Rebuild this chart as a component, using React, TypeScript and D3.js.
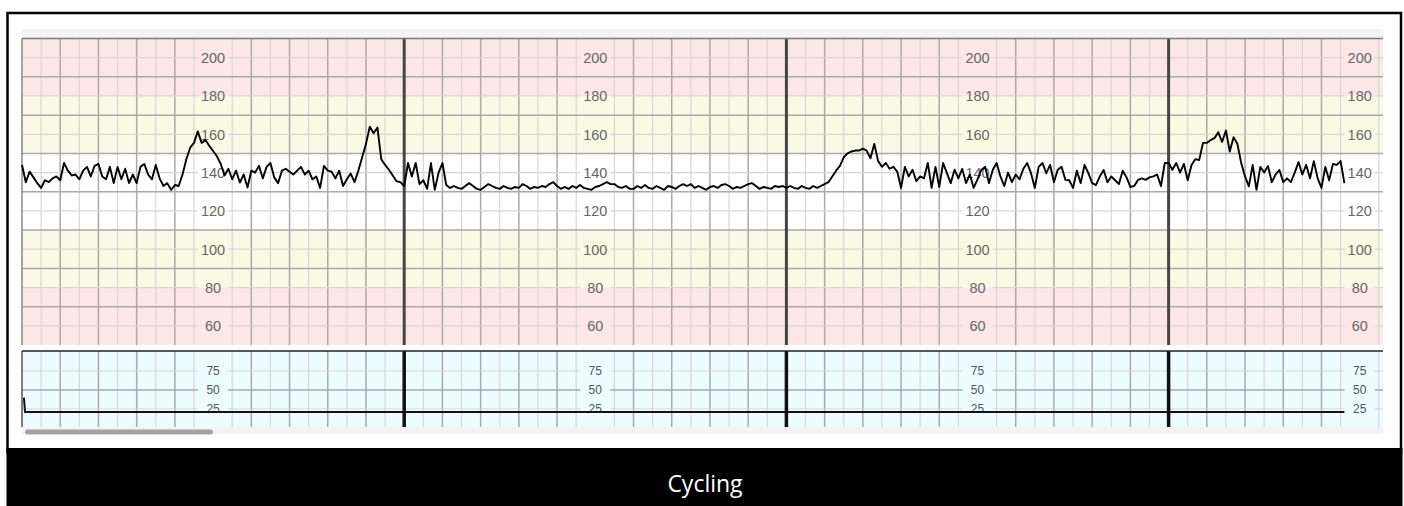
import React, { useEffect, useRef } from 'react';
import * as d3 from 'd3';

const WIDTH = 1404;
const HEIGHT = 506;

// fetal heart rate, one sample every 0.1 min, split per 10 minute page
const SAMPLE_MIN = 0.1;
const fhrPage1 = [
  144, 135, 140.5, 137.5, 134.5, 132, 136, 135, 137, 138,
  136, 145, 141, 138.5, 139, 136.5, 141, 143, 138, 143.5,
  144.5, 138, 136.5, 143, 134.5, 143, 136.5, 142, 134.5, 139,
  134.5, 143, 144.5, 139, 136.5, 144, 137, 133, 134.5, 131,
  133.5, 133, 139, 147, 153, 155.5, 161.5, 155.5, 157, 154,
  151.3, 148.5, 144.5, 138.5, 142, 136.5, 141, 134.8, 139, 132.2,
  141, 140, 143.5, 137, 143, 145, 137.5, 134.5, 141, 142,
  140.5, 139, 141, 143, 139, 141, 136.5, 138, 132, 143.5,
  141, 140.5, 137, 141, 133, 136.5, 139.5, 135, 141, 148,
  155, 164, 160.5, 163.5, 147, 144, 141.5, 138.5, 135.5, 135,
];
const fhrPage2 = [
  133, 145, 138, 145, 134, 136, 131.5, 145, 131, 140,
  145, 133.5, 132, 133, 132, 131.5, 133, 134.5, 133, 131.5,
  131, 132.5, 134, 133, 132, 131.5, 133, 132, 131.5, 132.5,
  132, 134, 133, 131.5, 132.5, 132, 133, 132.5, 134, 135,
  133, 131.5, 132.5, 131.5, 133, 132, 133.5, 132, 131.5, 131,
  132.5, 133, 134, 135, 134, 134, 132.5, 132, 133, 131.5,
  131.5, 133, 132, 133.5, 132, 131.5, 133, 132, 131, 133,
  132.5, 131.5, 133, 134, 133, 134, 132, 133, 132, 131,
  132.5, 133, 132, 133.5, 134, 133, 131.5, 132.5, 132, 133,
  134, 134.5, 133, 131.5, 132.5, 132, 131.5, 133, 132.5, 133,
];
const fhrPage3 = [
  132, 133, 132, 131.5, 133, 132, 131.5, 133, 132, 133,
  134, 135, 138, 141, 143.5, 148, 150, 151, 151.5, 151.5,
  152.5, 151.5, 147.5, 155, 146, 143, 145, 142, 143, 140.5,
  132, 143, 138, 141.5, 135.5, 138, 137, 145, 132, 143,
  132.5, 145, 139.7, 134.5, 141.5, 137, 142, 134.5, 139, 132,
  136.5, 141.4, 143, 134.5, 141.5, 145, 138, 133, 140, 135,
  139, 136.5, 142, 145, 139.7, 132, 143, 145, 139.7, 144,
  135, 141.5, 143, 136.2, 136, 132, 141, 134.5, 144, 139.7,
  134.5, 133.5, 138, 141.4, 135, 138, 136, 134, 141, 137.5,
  132.5, 133, 136.2, 137, 136.2, 137.5, 138, 139, 133, 145,
];
const fhrPage4 = [
  145, 141.5, 145, 140, 144.5, 136, 144, 147, 146.5, 155.5,
  155.5, 157, 158, 161, 156, 162, 151, 158.5, 155, 145,
  138, 132.8, 144, 131, 143, 140, 143.5, 135, 139, 141.4,
  135, 137, 135, 140, 145.5, 139, 144, 137, 146, 137,
  132, 143, 136, 144.5, 144, 146, 134.5,
];

// uterine activity (toco) trace
const tocoTimes = [0.05, 0.08, 34.6];
const tocoValues = [40, 21, 21];

const fhrTicks = [200, 180, 160, 140, 120, 100, 80, 60];
const tocoTicks = [75, 50, 25];
const labelMinutes = [5, 15, 25, 35];
const bandEdges = [210, 180, 150, 110, 80, 50];
const caption = 'Cycling';

const BAND_COLORS = ['#fce7e7', '#fafae4', '#ffffff', '#fafae4', '#fce7e7'];

export default function App() {
  const ref = useRef(null);

  useEffect(() => {
    const svg = d3.select(ref.current);
    svg.selectAll('*').remove();

    const LEFT = 22;
    const RIGHT = 1383;
    const x = d3.scaleLinear().domain([0, 10]).range([LEFT, 404.2]);
    const yF = d3.scaleLinear().domain([50, 210]).range([345, 38.5]);
    const yT = d3.scaleLinear().domain([0, 100]).range([428, 352]);
    const TOCO_TOP = 351;
    const TOCO_BOTTOM = 427;
    const tMax = x.invert(RIGHT);

    // frame + caption
    svg.append('rect').attr('width', WIDTH).attr('height', HEIGHT).attr('fill', '#fff');
    svg.append('rect')
      .attr('x', 7.5).attr('y', 13).attr('width', 1393.5).attr('height', 440)
      .attr('fill', 'none').attr('stroke', '#000').attr('stroke-width', 2.5);
    svg.append('rect').attr('x', 6.5).attr('y', 448).attr('width', 1396).attr('height', 58).attr('fill', '#000');
    svg.append('text')
      .attr('x', 705).attr('y', 492)
      .attr('text-anchor', 'middle')
      .attr('fill', '#fff')
      .attr('font-family', '"Open Sans", sans-serif')
      .attr('font-size', 23)
      .text(caption);

    // light strips above the chart and the scrollbar below it
    svg.append('rect').attr('x', LEFT).attr('y', 29).attr('width', RIGHT - LEFT).attr('height', 9.5).attr('fill', '#f3f3f3');
    svg.append('rect').attr('x', LEFT).attr('y', TOCO_BOTTOM).attr('width', RIGHT - LEFT).attr('height', 7).attr('fill', '#f3f3f3');
    svg.append('rect').attr('x', 25).attr('y', 429.5).attr('width', 188).attr('height', 5).attr('rx', 2.5).attr('fill', '#a3a3a3');

    // FHR bands
    const g = svg.append('g');
    bandEdges.slice(0, -1).forEach((top, i) => {
      g.append('rect')
        .attr('x', LEFT).attr('width', RIGHT - LEFT)
        .attr('y', yF(top)).attr('height', yF(bandEdges[i + 1]) - yF(top))
        .attr('fill', BAND_COLORS[i]);
    });
    g.append('rect')
      .attr('x', LEFT).attr('width', RIGHT - LEFT)
      .attr('y', TOCO_TOP).attr('height', TOCO_BOTTOM - TOCO_TOP)
      .attr('fill', '#edfcfc');

    const MINOR = '#d6d6d6';
    const MAJOR = '#a9a9a9';
    const gapHalf = 15;
    const gaps = labelMinutes.map((m) => [x(m) - gapHalf, x(m) + gapHalf]);

    // horizontal line with gaps at the label columns
    const gappedLine = (y, color, width) => {
      let start = LEFT;
      gaps.forEach(([a, b]) => {
        if (a > start) {
          g.append('line').attr('x1', start).attr('x2', Math.min(a, RIGHT)).attr('y1', y).attr('y2', y)
            .attr('stroke', color).attr('stroke-width', width);
        }
        start = b;
      });
      if (start < RIGHT) {
        g.append('line').attr('x1', start).attr('x2', RIGHT).attr('y1', y).attr('y2', y)
          .attr('stroke', color).attr('stroke-width', width);
      }
    };

    // vertical grid
    const halfSteps = d3.range(1, Math.floor(tMax * 2) + 1);
    const panels = [[yF(210), yF(50)], [TOCO_TOP, TOCO_BOTTOM]];
    panels.forEach(([y1, y2]) => {
      halfSteps.forEach((k) => {
        const t = k / 2;
        if (k % 20 === 0) return;
        if (k % 2 === 0 && (k / 2) % 10 === 5) return;
        g.append('line')
          .attr('x1', x(t)).attr('x2', x(t)).attr('y1', y1).attr('y2', y2)
          .attr('stroke', k % 2 === 1 ? MINOR : MAJOR)
          .attr('stroke-width', k % 2 === 1 ? 1.2 : 1.5);
      });
    });

    // horizontal grid, FHR panel
    d3.range(60, 210, 10).forEach((v) => {
      if ((v / 10) % 2 === 1) {
        g.append('line').attr('x1', LEFT).attr('x2', RIGHT).attr('y1', yF(v)).attr('y2', yF(v))
          .attr('stroke', MAJOR).attr('stroke-width', 1.5);
      } else {
        gappedLine(yF(v), MINOR, 1.2);
      }
    });
    // horizontal grid, toco panel
    gappedLine(yT(75), MINOR, 1.2);
    gappedLine(yT(50), MAJOR, 1.5);
    gappedLine(yT(25), MINOR, 1.2);

    // 10 minute lines
    d3.range(10, tMax, 10).forEach((t) => {
      g.append('line').attr('x1', x(t)).attr('x2', x(t)).attr('y1', yF(210)).attr('y2', yF(50))
        .attr('stroke', '#454545').attr('stroke-width', 3);
      g.append('line').attr('x1', x(t)).attr('x2', x(t)).attr('y1', TOCO_TOP).attr('y2', TOCO_BOTTOM)
        .attr('stroke', '#111').attr('stroke-width', 3.5);
    });

    // panel borders
    g.append('line').attr('x1', LEFT).attr('x2', RIGHT).attr('y1', yF(210)).attr('y2', yF(210))
      .attr('stroke', '#7a7a7a').attr('stroke-width', 1.5);
    g.append('line').attr('x1', LEFT).attr('x2', LEFT).attr('y1', yF(210)).attr('y2', yF(50))
      .attr('stroke', '#8a8a8a').attr('stroke-width', 1.5);
    g.append('line').attr('x1', LEFT).attr('x2', RIGHT).attr('y1', TOCO_TOP).attr('y2', TOCO_TOP)
      .attr('stroke', '#222').attr('stroke-width', 1.5);
    g.append('line').attr('x1', LEFT).attr('x2', LEFT).attr('y1', TOCO_TOP).attr('y2', TOCO_BOTTOM)
      .attr('stroke', '#555').attr('stroke-width', 1.5);

    // axis labels repeated on every page
    labelMinutes.forEach((m) => {
      fhrTicks.forEach((v) => {
        g.append('text')
          .attr('x', x(m)).attr('y', yF(v) + 5.3)
          .attr('text-anchor', 'middle')
          .attr('font-family', '"Liberation Sans", Arial, sans-serif')
          .attr('font-size', 14.5)
          .attr('fill', '#666')
          .text(v);
      });
      tocoTicks.forEach((v) => {
        g.append('text')
          .attr('x', x(m)).attr('y', yT(v) + 4.3)
          .attr('text-anchor', 'middle')
          .attr('font-family', '"Liberation Sans", Arial, sans-serif')
          .attr('font-size', 12)
          .attr('fill', '#555')
          .text(v);
      });
    });

    // traces
    const fhr = [...fhrPage1, ...fhrPage2, ...fhrPage3, ...fhrPage4].map((v, i) => ({ t: i * SAMPLE_MIN, v }));
    const fhrLine = d3.line().x((d) => x(d.t)).y((d) => yF(d.v));
    g.append('path')
      .attr('d', fhrLine(fhr))
      .attr('fill', 'none')
      .attr('stroke', '#000')
      .attr('stroke-width', 1.9)
      .attr('stroke-linejoin', 'round');

    const toco = tocoTimes.map((t, i) => ({ t, v: tocoValues[i] }));
    const tocoLine = d3.line().x((d) => x(d.t)).y((d) => yT(d.v));
    g.append('path')
      .attr('d', tocoLine(toco))
      .attr('fill', 'none')
      .attr('stroke', '#111')
      .attr('stroke-width', 2);
  }, []);

  return (
    <div style={{ position: 'absolute', left: 0, top: 0 }}>
      <svg ref={ref} width={WIDTH} height={HEIGHT} style={{ display: 'block' }}></svg>
    </div>
  );
}
